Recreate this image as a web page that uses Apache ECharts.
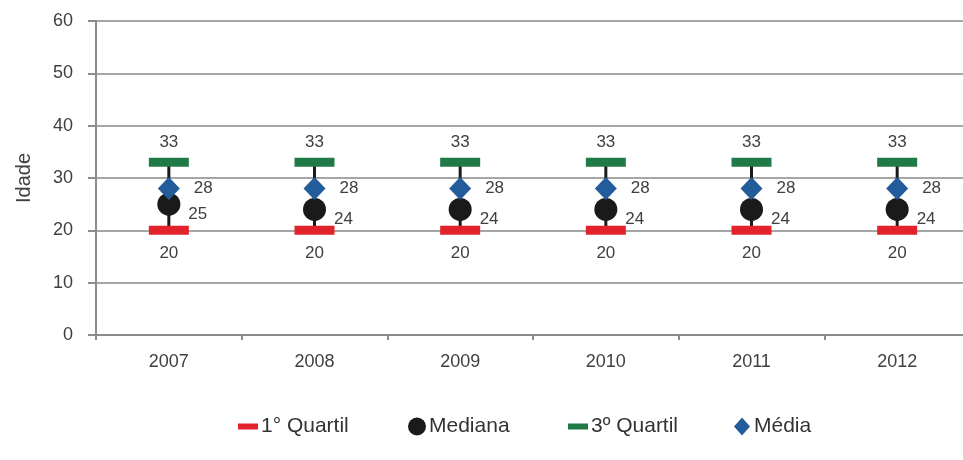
<!DOCTYPE html>
<html>
<head>
<meta charset="utf-8">
<script src="https://cdn.jsdelivr.net/npm/echarts@6/dist/echarts.min.js"></script>
<style>
  html, body { margin: 0; padding: 0; background: #fff; }
  #chart { width: 963px; height: 460px; }
</style>
</head>
<body>
<div id="chart"></div>
<script>
// Age distribution per year: quartiles, median and mean
const years = ['2007', '2008', '2009', '2010', '2011', '2012'];
const quartil1 = [20, 20, 20, 20, 20, 20];
const mediana = [25, 24, 24, 24, 24, 24];
const quartil3 = [33, 33, 33, 33, 33, 33];
const media = [28, 28, 28, 28, 28, 28];
const yTicks = [0, 10, 20, 30, 40, 50, 60];

const FONT = '"Liberation Sans", Arial, Helvetica, sans-serif';
const TXT = '#404040';
const RED = '#e3232c';
const GREEN = '#1f7a47';
const BLUE = '#235c9a';
const BLACK = '#1a1a1a';

const dashPath = 'path://M0,0 L20,0 L20,6 L0,6 Z';
const diamondPath = 'path://M8,0 L16,9 L8,18 L0,9 Z';

const chart = echarts.init(document.getElementById('chart'), null, { renderer: 'canvas' });

function legendAt(left, name, icon, w, h) {
  return {
    left: left,
    top: 416,
    orient: 'horizontal',
    itemWidth: w,
    itemHeight: h,
    itemGap: 0,
    symbolKeepAspect: true,
    data: [{ name: name, icon: icon }],
    textStyle: { fontFamily: FONT, fontSize: 21, color: '#333', padding: [0, 0, 0, -2] },
    padding: 0
  };
}

const valueLabel = {
  show: true,
  fontFamily: FONT,
  fontSize: 17,
  color: TXT
};

chart.setOption({
  animation: false,
  backgroundColor: '#fff',
  grid: {
    left: 96,
    top: 21,
    width: 874,
    height: 314,
    outerBoundsMode: 'none',
    containLabel: false
  },
  legend: [
    legendAt(238, '1° Quartil', dashPath, 20, 18),
    legendAt(408, 'Mediana', 'circle', 18, 18),
    legendAt(568, '3º Quartil', dashPath, 20, 18),
    legendAt(734, 'Média', diamondPath, 18, 18)
  ],
  xAxis: {
    type: 'category',
    data: years,
    boundaryGap: true,
    axisLine: { show: true, lineStyle: { color: '#8c8c8c', width: 2 } },
    axisTick: { show: true, length: 5, alignWithLabel: false, lineStyle: { color: '#8c8c8c', width: 2 } },
    axisLabel: { fontFamily: FONT, fontSize: 18, color: TXT, margin: 18 },
    splitLine: { show: false }
  },
  yAxis: {
    type: 'value',
    min: yTicks[0],
    max: yTicks[yTicks.length - 1],
    interval: yTicks[1] - yTicks[0],
    name: 'Idade',
    nameLocation: 'middle',
    nameGap: 62,
    nameRotate: 90,
    nameTextStyle: { fontFamily: FONT, fontSize: 20, color: TXT },
    axisLine: { show: true, lineStyle: { color: '#8c8c8c', width: 2 } },
    axisTick: { show: true, length: 8, lineStyle: { color: '#8c8c8c', width: 2 } },
    axisLabel: { fontFamily: FONT, fontSize: 18, color: TXT, margin: 23 },
    splitLine: { show: true, lineStyle: { color: '#a6a6a6', width: 2 } }
  },
  series: [
    {
      // vertical connector from the 1st to the 3rd quartile
      type: 'custom',
      name: 'intervalo',
      data: years.map((y, i) => [i, quartil1[i], quartil3[i]]),
      encode: { x: 0, y: [1, 2] },
      z: 1,
      silent: true,
      renderItem: function (params, api) {
        const lo = api.coord([api.value(0), api.value(1)]);
        const hi = api.coord([api.value(0), api.value(2)]);
        return {
          type: 'line',
          shape: { x1: lo[0], y1: lo[1], x2: hi[0], y2: hi[1] },
          style: { stroke: BLACK, lineWidth: 3 }
        };
      }
    },
    {
      type: 'scatter',
      name: '1° Quartil',
      data: quartil1,
      symbol: 'rect',
      symbolSize: [40, 9],
      itemStyle: { color: RED, opacity: 1 },
      z: 3,
      label: Object.assign({}, valueLabel, { position: 'bottom', distance: 10 })
    },
    {
      type: 'scatter',
      name: 'Mediana',
      data: mediana,
      symbol: 'circle',
      symbolSize: 23,
      itemStyle: { color: BLACK, opacity: 1 },
      z: 3,
      label: Object.assign({}, valueLabel, { position: 'right', distance: 8, offset: [0, 10] })
    },
    {
      type: 'scatter',
      name: '3º Quartil',
      data: quartil3,
      symbol: 'rect',
      symbolSize: [40, 9],
      itemStyle: { color: GREEN, opacity: 1 },
      z: 3,
      label: Object.assign({}, valueLabel, { position: 'top', distance: 7 })
    },
    {
      type: 'scatter',
      name: 'Média',
      data: media,
      symbol: 'diamond',
      symbolSize: [22, 23],
      itemStyle: { color: BLUE, opacity: 1 },
      z: 4,
      label: Object.assign({}, valueLabel, { position: 'right', distance: 14 })
    }
  ]
});
</script>
</body>
</html>
